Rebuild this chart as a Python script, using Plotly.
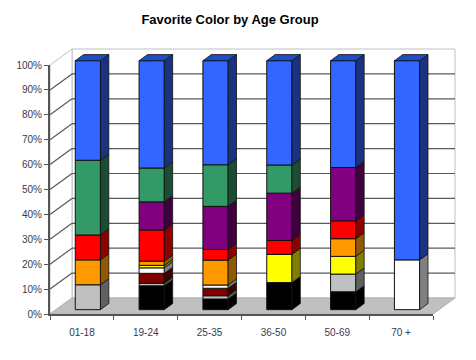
import plotly.graph_objects as go

categories = ["01-18", "19-24", "25-35", "36-50", "50-69", "70 +"]
black  = [0, 9.6, 4.3, 10.9, 7.2, 0]
silver = [10, 1.0, 1.3, 0, 7.1, 0]
maroon = [0, 4.0, 3.0, 0, 0, 0]
white  = [0, 2.2, 1.3, 0, 0, 20]
yellow = [0, 1.0, 0, 11.3, 7.1, 0]
orange = [10, 1.7, 10, 0, 7.1, 0]
red    = [10, 12.5, 4.3, 5.6, 7.2, 0]
purple = [0, 11.3, 17.3, 19, 21.4, 0]
green  = [30, 13.6, 16.7, 11.3, 0, 0]
blue   = [40, 43.1, 41.8, 41.9, 42.9, 80]
y_ticks = list(range(0, 101, 10))

series = [
    (black, "#000000", "#000000"),
    (silver, "#C0C0C0", "#606060"),
    (maroon, "#800000", "#400000"),
    (white, "#FFFFFF", "#808080"),
    (yellow, "#FFFF00", "#808000"),
    (orange, "#FF9900", "#8F5A00"),
    (red, "#FF0000", "#8F0000"),
    (purple, "#800080", "#400040"),
    (green, "#339966", "#1A4D33"),
    (blue, "#3366FF", "#1A3380"),
]

W, H = 476, 360
X0, XS = 50, 383 / 6      # pixel of category 0 and pixels per category
Y0, YS = 314, 2.49        # pixel of 0 % and pixels per percent
DX, DY = 22 / XS, 16 / YS  # chart depth in axis units
D_FRONT, D_BACK = 0.27, 0.65
BAR_W = 0.395


def P(cat, val, d=0.0):
    return cat + d * DX, val + d * DY


fig = go.Figure()

# stacked bars: front faces, side faces, top face
cum = [0.0] * len(categories)
for values, face, side in series:
    sx, sy = [], []
    bar_x, bar_base, bar_h = [], [], []
    for i, v in enumerate(values):
        if v <= 0:
            continue
        lo, hi = cum[i], cum[i] + v
        cx = i + 0.5
        xr = cx + BAR_W / 2
        for (a, b) in [P(xr, lo, D_FRONT), P(xr, lo, D_BACK), P(xr, hi, D_BACK), P(xr, hi, D_FRONT), P(xr, lo, D_FRONT)]:
            sx.append(a)
            sy.append(b)
        sx.append(None)
        sy.append(None)
        fx, fy = P(cx, lo, D_FRONT)
        bar_x.append(fx)
        bar_base.append(fy)
        bar_h.append(v)
        cum[i] = hi
    fig.add_trace(go.Bar(x=bar_x, y=bar_h, base=bar_base, width=BAR_W,
                         marker=dict(color=face, line=dict(color="#101010", width=1)),
                         showlegend=False, hoverinfo="skip"))
    fig.add_trace(go.Scatter(x=sx, y=sy, mode="lines", fill="toself", fillcolor=side,
                             line=dict(color="#101010", width=0.8),
                             showlegend=False, hoverinfo="skip"))

# top faces
tx, ty = [], []
for i, total in enumerate(cum):
    cx = i + 0.5
    xl, xr = cx - BAR_W / 2, cx + BAR_W / 2
    for (a, b) in [P(xl, total, D_FRONT), P(xr, total, D_FRONT), P(xr, total, D_BACK), P(xl, total, D_BACK), P(xl, total, D_FRONT)]:
        tx.append(a)
        ty.append(b)
    tx.append(None)
    ty.append(None)
fig.add_trace(go.Scatter(x=tx, y=ty, mode="lines", fill="toself", fillcolor="#1F4DC8",
                         line=dict(color="#101010", width=0.8),
                         showlegend=False, hoverinfo="skip"))

# invisible trace that carries the visible front axes
fig.add_trace(go.Scatter(x=[0, 6], y=[0, 100], xaxis="x2", yaxis="y2", mode="markers",
                         marker=dict(opacity=0), showlegend=False, hoverinfo="skip"))


# walls, floor and gridlines
def poly(points, fill, line):
    path = "M " + " L ".join(f"{a},{b}" for a, b in points) + " Z"
    return dict(type="path", path=path, xref="x", yref="y", fillcolor=fill,
                line=dict(color=line, width=1), layer="below")


shapes = [
    poly([P(0, 0, 1), P(6, 0, 1), P(6, 100, 1), P(0, 100, 1)], "#FFFFFF", "#C0C0C0"),
    poly([P(0, 0), P(0, 0, 1), P(0, 100, 1), P(0, 100)], "#FFFFFF", "#C0C0C0"),
    poly([P(0, 0), P(6, 0), P(6, 0, 1), P(0, 0, 1)], "#C0C0C0", "#B0B0B0"),
]
for t in y_ticks[1:-1]:
    p1, p2, p3 = P(0, t), P(0, t, 1), P(6, t, 1)
    for u, v in [(p1, p2), (p2, p3)]:
        shapes.append(dict(type="line", x0=u[0], y0=u[1], x1=v[0], y1=v[1], xref="x", yref="y",
                           line=dict(color="#5A5A5A", width=1.2), layer="below"))

label_font = dict(family="Liberation Sans, Arial", size=10, color="#3A3A50")
axis_col = "#555555"

fig.update_layout(
    width=W, height=H, margin=dict(l=0, r=0, t=0, b=0, pad=0, autoexpand=False),
    paper_bgcolor="white", plot_bgcolor="rgba(0,0,0,0)",
    barmode="overlay", showlegend=False, shapes=shapes,
    title=dict(text="<b>Favorite Color by Age Group</b>", x=230 / W, xanchor="center",
               y=1 - 19 / H, yanchor="middle",
               font=dict(family="Liberation Sans, Arial", size=13, color="#000000")),
    xaxis=dict(domain=[0, 1], range=[(0 - X0) / XS, (W - X0) / XS], visible=False, fixedrange=True),
    yaxis=dict(domain=[0, 1], range=[(Y0 - H) / YS, Y0 / YS], visible=False, fixedrange=True),
    xaxis2=dict(domain=[X0 / W, (X0 + 6 * XS) / W], range=[0, 6], anchor="y2", fixedrange=True,
                tickmode="array", tickvals=[i + 0.5 for i in range(6)], ticktext=categories,
                ticks="outside", ticklen=8, tickcolor="rgba(0,0,0,0)", tickfont=label_font,
                showgrid=False, zeroline=False, showline=True, linecolor=axis_col, linewidth=2,
                minor=dict(tickmode="array", tickvals=list(range(7)), ticks="outside",
                           ticklen=4, tickcolor=axis_col, tickwidth=1, showgrid=False)),
    yaxis2=dict(domain=[(H - Y0) / H, (H - Y0 + 100 * YS) / H], range=[0, 100], anchor="x2", fixedrange=True,
                tickmode="array", tickvals=y_ticks, ticktext=[f"{t}%" for t in y_ticks],
                ticks="outside", ticklen=4, tickcolor=axis_col, tickwidth=1, tickfont=label_font,
                showgrid=False, zeroline=False, showline=True, linecolor=axis_col, linewidth=2),
)

fig.write_html("out.html", config=dict(displayModeBar=False),
               post_script="document.body.style.margin='0';document.documentElement.style.overflow='hidden';")
